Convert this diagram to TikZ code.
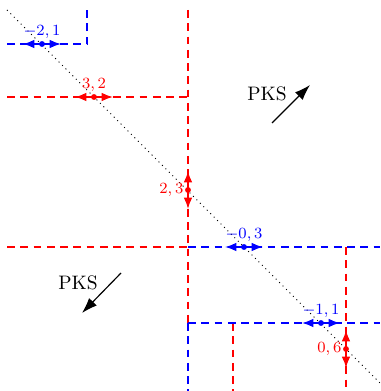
\documentclass[tikz,border=0pt]{standalone}
\usetikzlibrary{arrows.meta,calc}
\begin{document}
\begin{tikzpicture}[x=0.513pt,y=-0.513pt,
  rdash/.style={draw=red, line width=0.6pt, dash pattern=on 4pt off 2.8pt},
  bdash/.style={draw=blue, line width=0.6pt, dash pattern=on 4pt off 2.8pt},
  dotpt/.style={circle, fill, inner sep=0pt, minimum size=3pt},
  dbl/.style={{Latex[length=5.8pt,width=4.4pt]}-{Latex[length=5.8pt,width=4.4pt]}, line width=0.8pt},
  lab/.style={font=\fontsize{7.6}{9}\selectfont, inner sep=1pt},
  pkstext/.style={font=\normalsize, inner sep=0pt},
  pksarrow/.style={-{Latex[length=8pt,width=5.5pt]}, line width=0.6pt}
]
\useasboundingbox (0,0) rectangle (380,391);

% coordinates of the guide lines
\coordinate (a1) at (7,44);   \coordinate (a2) at (87,44);  \coordinate (a3) at (87,10);
\coordinate (b1) at (7,97);   \coordinate (b2) at (188,97);
\coordinate (v0) at (188,10); \coordinate (v1) at (188,323); \coordinate (v2) at (188,391);
\coordinate (c1) at (7,247);  \coordinate (c2) at (188,247); \coordinate (c3) at (380,247);
\coordinate (e1) at (346,247); \coordinate (e2) at (346,391);
\coordinate (f1) at (380,323);
\coordinate (g1) at (233,323); \coordinate (g2) at (233,391);
\coordinate (d1) at (7,10);   \coordinate (d2) at (380,383);

% diagonal
\draw[dotted, line width=0.5pt] (d1) -- (d2);

% red guides
\draw[rdash] (b1) -- (b2);
\draw[rdash] (v0) -- (v1);
\draw[rdash] (c1) -- (c2);
\draw[rdash] (e1) -- (e2);
\draw[rdash] (g1) -- (g2);
% blue guides
\draw[bdash] (a1) -- (a2) -- (a3);
\draw[bdash] (c2) -- (c3);
\draw[bdash] (v1) -- (f1);
\draw[bdash] (v1) -- (v2);

% points
\node[dotpt, blue, label={[lab,blue]above:$-2,1$}] (p1) at (42,44) {};
\node[dotpt, red,  label={[lab,red]above:$3,2$}]   (p2) at (94,97) {};
\node[dotpt, red,  label={[lab,red,inner sep=0.5pt]left:$2,3$}] (p3) at (188,190) {};
\node[dotpt, blue, label={[lab,blue]above:$-0,3$}] (p4) at (244,247) {};
\node[dotpt, blue, label={[lab,blue]above:$-1,1$}] (p5) at (321,323) {};
\node[dotpt, red,  label={[lab,red,inner sep=0.5pt]left:$0,6$}] (p6) at (346,349) {};

\draw[dbl, blue] ($(p1)+(-19,0)$) -- ($(p1)+(19,0)$);
\draw[dbl, red]  ($(p2)+(-19,0)$) -- ($(p2)+(19,0)$);
\draw[dbl, red]  ($(p3)+(0,-19)$) -- ($(p3)+(0,19)$);
\draw[dbl, blue] ($(p4)+(-19,0)$) -- ($(p4)+(19,0)$);
\draw[dbl, blue] ($(p5)+(-19,0)$) -- ($(p5)+(19,0)$);
\draw[dbl, red]  ($(p6)+(0,-19)$) -- ($(p6)+(0,19)$);

% PKS arrows
\node[pkstext] (k1) at (267,94) {PKS};
\coordinate (k1s) at (272,123); \coordinate (k1e) at (310,85);
\draw[pksarrow] (k1s) -- (k1e);
\node[pkstext] (k2) at (78,283) {PKS};
\coordinate (k2s) at (121,273); \coordinate (k2e) at (82,313);
\draw[pksarrow] (k2s) -- (k2e);
\end{tikzpicture}
\end{document}
